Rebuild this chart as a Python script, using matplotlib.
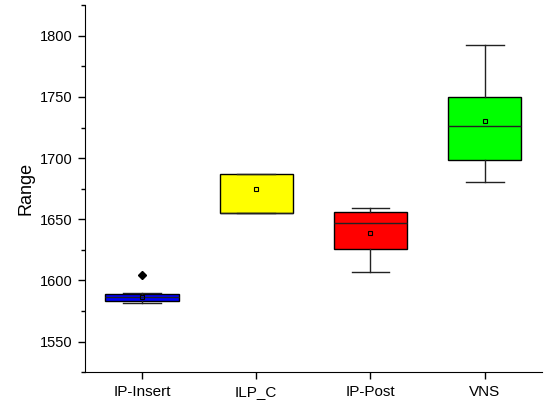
import numpy as np
import matplotlib
matplotlib.use("Agg")
import matplotlib.pyplot as plt
from matplotlib.ticker import MultipleLocator

plt.rcParams['font.family'] = ['Liberation Sans', 'DejaVu Sans']

# box statistics
labels = ["IP-Insert", "ILP_C", "IP-Post", "VNS"]
whislo = [1581.3, 1655.5, 1607.0, 1680.4]
q1 = [1583.0, 1655.5, 1625.5, 1698.7]
med = [1586.0, 1655.5, 1647.0, 1726.6]
q3 = [1588.6, 1686.7, 1656.0, 1750.0]
whishi = [1589.4, 1686.7, 1659.2, 1792.4]
means = [1586.5, 1674.5, 1639.0, 1730.0]
fliers = [[1604.0], [], [], []]
colors = ["#0000ff", "#ffff00", "#ff0000", "#00ff00"]


def main():
    stats = []
    for i in range(len(labels)):
        stats.append(dict(label=labels[i], whislo=whislo[i], q1=q1[i],
                          med=med[i], q3=q3[i], whishi=whishi[i],
                          mean=means[i], fliers=fliers[i]))

    fig = plt.figure(figsize=(5.44, 4.04), dpi=100)
    ax = fig.add_axes([0.156, 0.079, 0.84, 0.908])

    bp = ax.bxp(stats, positions=[1, 2, 3, 4], widths=0.64, patch_artist=True,
                showmeans=True, showfliers=True,
                boxprops=dict(edgecolor="black", linewidth=1.0),
                medianprops=dict(color="#222222", linewidth=1.0),
                whiskerprops=dict(color="#222222", linewidth=1.0),
                capprops=dict(color="#222222", linewidth=1.0),
                capwidths=0.33,
                meanprops=dict(marker="s", markersize=3.5, markerfacecolor="none",
                               markeredgecolor="black", markeredgewidth=0.8),
                flierprops=dict(marker="D", markersize=4, markerfacecolor="black",
                                markeredgecolor="black"))
    for patch, c in zip(bp["boxes"], colors):
        patch.set_facecolor(c)

    ax.set_xlim(0.5, 4.5)
    ax.set_ylim(1525, 1825)
    ax.yaxis.set_major_locator(MultipleLocator(50))
    ax.yaxis.set_minor_locator(MultipleLocator(25))
    ax.spines["top"].set_visible(False)
    ax.spines["right"].set_visible(False)
    ax.tick_params(axis="both", which="major", direction="out", length=5, width=1)
    ax.tick_params(axis="y", which="major", labelsize=10.5, pad=4)
    ax.tick_params(axis="x", which="major", labelsize=11, pad=4)
    ax.tick_params(axis="y", which="minor", direction="out", length=3, width=1)
    ax.set_ylabel("Range", fontsize=13, labelpad=4)

    fig.savefig("out.png", dpi=100)


if __name__ == '__main__':
    main()
